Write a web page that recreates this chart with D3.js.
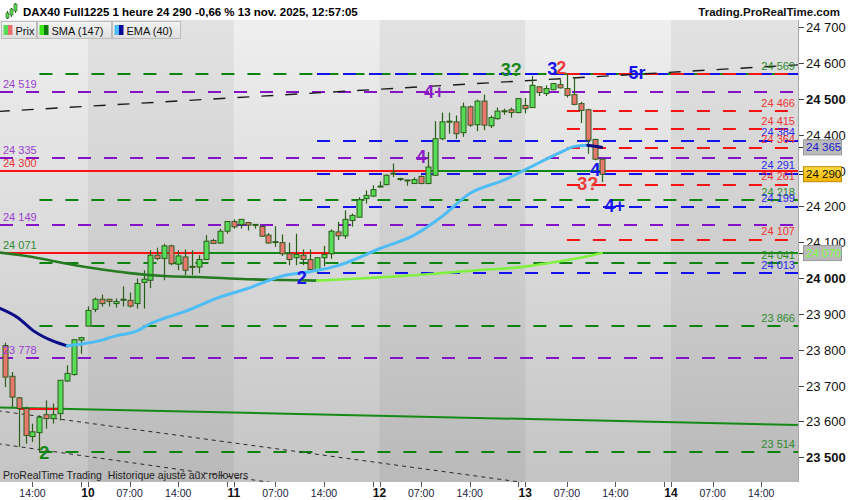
<!DOCTYPE html>
<html><head><meta charset="utf-8">
<script src="https://cdn.jsdelivr.net/npm/d3@7"></script>
<style>body{margin:0;background:#fff;} svg{display:block;font-family:"Liberation Sans",Arial,sans-serif;} .pre{white-space:pre;}</style>
</head><body><svg id="c" width="850" height="500"></svg>
<script>
// ---------- DATA ----------
const firstBar = -12; // bar index of first candle (10 nov 01:00 = 0, 21 bars per day)
const open  = [23812,23726,23666,23636,23558,23569,23619,23608,23622,23713,23731,23827,
 23866,23913,23941,23941,23929,23939,23938,23929,23988,23994,24064,24055,24090,24039,24059,24033,24031,24052,24105,24098,24131,
 24158,24149,24155,24150,24144,24120,24102,24099,24068,24057,24064,24052,24024,24057,24068,24129,24118,24161,24170,24222,24229,
 24257,24261,24292,24276,24274,24264,24284,24264,24287,24389,24436,24436,24406,24478,24428,24494,24425,24445,24465,24470,24462,
 24482,24476,24534,24515,24526,24540,24529,24512,24487,24470,24387,24332];
const high  = [23820,23738,23668,23641,23594,23617,23659,23650,23715,23757,23830,23836,
 23921,23946,23954,23941,23943,23977,23960,23999,24022,24078,24085,24096,24093,24078,24080,24078,24064,24120,24110,24138,24159,
 24164,24164,24157,24150,24147,24126,24145,24122,24099,24124,24080,24080,24057,24090,24136,24157,24189,24180,24226,24245,24259,
 24270,24290,24320,24280,24274,24281,24286,24352,24438,24462,24462,24454,24490,24482,24498,24512,24454,24476,24473,24476,24501,
 24503,24564,24535,24538,24545,24554,24569,24560,24492,24473,24389,24332];
const low   = [23696,23640,23529,23538,23543,23514,23580,23594,23603,23710,23728,23789,
 23866,23905,23921,23921,23918,23921,23918,23915,23915,23972,24050,23994,24036,24022,24008,24008,24014,24050,24096,24096,24124,
 24138,24138,24133,24138,24115,24096,24087,24062,24036,24036,24036,24022,24013,24033,24054,24106,24110,24144,24170,24208,24226,
 24253,24259,24282,24271,24258,24264,24262,24262,24285,24385,24403,24389,24394,24422,24410,24413,24419,24442,24456,24448,24460,
 24460,24476,24508,24508,24524,24529,24504,24482,24433,24347,24329,24268];
const close = [23724,23668,23636,23561,23571,23612,23608,23619,23715,23734,23828,23834,
 23910,23941,23929,23935,23935,23941,23922,23985,23997,24064,24055,24090,24040,24062,24022,24030,24052,24103,24097,24131,24158,
 24143,24164,24148,24148,24117,24098,24100,24068,24052,24066,24052,24024,24057,24066,24131,24118,24164,24175,24219,24231,24247,
 24255,24287,24293,24278,24272,24275,24264,24310,24389,24436,24438,24403,24478,24427,24494,24427,24448,24466,24467,24462,24501,
 24473,24538,24518,24529,24543,24531,24510,24485,24468,24385,24332,24290];

// SMA(147) and EMA(40): [bar index, value]
const smaPts = [[-13,24072],[-8,24059],[-3,24040],[2,24024],[6,24014],[11,24006],[16,24003],[23,23997],[28,23995],[33,23993],
 [37,23997],[42,24002],[47,24008],[51,24014],[56,24022],[62,24030],[68,24047],[72,24061],[74,24070]];
const emaPts = [[-13,23918],[-10,23888],[-8,23855],[-5,23824],[-3,23811],[-1,23816],[2,23827],[4,23839],[7,23852],[9,23873],
 [11,23888],[14,23907],[16,23923],[18,23940],[23,23971],[28,24006],[32,24018],[36,24035],[42,24082],[47,24120],[51,24172],
 [55,24236],[60,24274],[65,24322],[68,24350],[70,24367],[72,24371],[74,24365]];

// horizontal dashed levels and the bar where each family starts
const purpleLevels = [24519, 24335, 24149, 23778];
const greenLevels  = [24569, 24218, 24041, 23866, 23514];
const blueLevels   = [24569, 24384, 24291, 24199, 24013];
const redLevels    = [24569, 24466, 24415, 24364, 24261, 24107];
const purpleStart = -13, greenStart = -7, blueStart = 33, redStart = 69;

// solid horizontal levels, with coloured stretches [fromBar, toBar, colourKey]
const solidLevels = [24300, 24071, 23634];
const solidStretches = [
  [[-13,49,'red'],[49,74,'green'],[74,103,'red']],
  [[-13,17,'red'],[17,29,'green'],[29,35,'red'],[35,103,'green']],
  [[-10,-4,'red']]
];

// trend lines [bar, value]
const greenTrend = [[-13,23639],[103,23590]];
const blackTrendHigh = [[-13,24465],[103,24596]];
const blackTrendLow1 = [[-13,23630],[63,23429]];
const blackTrendLow2 = [[-13,23538],[27,23428]];

// wave labels
const waveText  = ["2","2","4","4+","3?","3","2","5r","4","3?","4+"];
const waveBar   = [-6.3, 30.8, 48, 49.9, 61, 66.9, 68.2, 79.1, 73.1, 72, 75.9];
const waveValue = [23512, 24003, 24338, 24522, 24583, 24586, 24589, 24575, 24302, 24263, 24204];
const waveKind  = ["green","blue","purple","purple","green","blue","red","blue","blue","red","blue"];

// level labels
const leftLabelValues = [24519, 24335, 24300, 24149, 24071, 23778];
const leftLabelKind   = ["purple","purple","red","purple","green","purple"];
const rightLabelValues = [24569, 24466, 24415, 24384, 24364, 24291, 24261, 24218, 24199, 24107, 24041, 24013, 23866, 23514];
const rightLabelKind   = ["green","red","red","blue","red","blue","red","green","blue","red","green","blue","green","green"];

// axes
const yTickValues = [23500,23600,23700,23800,23900,24000,24100,24200,24300,24400,24500,24600,24700];
const yBoldTicks = [23500,24000,24500];
const xTickBars   = [-8,0,6,13,21,27,34,42,48,55,63,69,76,84,90,97];
const xTickLabels = ["14:00","10","07:00","14:00","11","07:00","14:00","12","07:00","14:00","13","07:00","14:00","14","07:00","14:00"];
const dayStarts = [0,21,42,63,84];
const lastPrice = 24290, lastEma = 24365, lastSma = 24070;

// ---------- STYLE ----------
const W = 850, H = 500;
const P = {l:0, r:798, t:20, b:482};
const C = {
  purple:'#8412c8', green:'#0e830e', blue:'#1212ee', red:'#f41414',
  tpurple:'#9840d0', tgreen:'#2f8a2f', tblue:'#2a2ae6', tred:'#f03434',
  wgreen:'#17861a', wblue:'#1515ea', wpurple:'#8a1cc6', wred:'#ec3c3c'
};
const fmt = d3.formatLocale({thousands:" ", grouping:[3], decimal:",", currency:["",""]}).format(",d");

const x = d3.scaleLinear().domain([0, 84]).range([88, 671]);
const y = d3.scaleLinear().domain([23500, 24700]).range([457.3, 27.3]);

const svg = d3.select('#c');
const defs = svg.append('defs');
const bg = defs.append('linearGradient').attr('id','bg').attr('x1',0).attr('y1',0).attr('x2',0).attr('y2',1);
bg.append('stop').attr('offset','0%').attr('stop-color','#efefef');
bg.append('stop').attr('offset','100%').attr('stop-color','#c4c4c4');
const yb = defs.append('linearGradient').attr('id','yb').attr('x1',0).attr('y1',0).attr('x2',0).attr('y2',1);
yb.append('stop').attr('offset','0%').attr('stop-color','#ffdc40');
yb.append('stop').attr('offset','100%').attr('stop-color','#f0b400');
const lg = defs.append('linearGradient').attr('id','lg').attr('x1',0).attr('y1',0).attr('x2',0).attr('y2',1);
lg.append('stop').attr('offset','0%').attr('stop-color','#f4f4f4');
lg.append('stop').attr('offset','100%').attr('stop-color','#dedede');
defs.append('clipPath').attr('id','clip').append('rect')
  .attr('x',P.l).attr('y',P.t).attr('width',P.r-P.l).attr('height',P.b-P.t);

svg.append('rect').attr('width',W).attr('height',H).attr('fill','#fff');
svg.append('rect').attr('x',P.l).attr('y',P.t).attr('width',P.r-P.l).attr('height',P.b-P.t).attr('fill','url(#bg)');

const plot = svg.append('g').attr('clip-path','url(#clip)');
// day bands
const edges = [-13, ...dayStarts, 103];
for (let i = 0; i < edges.length-1; i++) {
  if (i % 2 === 1) {
    plot.append('rect').attr('x', x(edges[i])).attr('y', P.t)
      .attr('width', x(edges[i+1]) - x(edges[i])).attr('height', P.b-P.t)
      .attr('fill','#000').attr('opacity',0.05);
  }
}

// dashed levels
function dashLevels(values, start, color) {
  values.forEach(v => {
    const yy = Math.round(y(v));
    plot.append('line').attr('x1', Math.max(P.l, x(start))).attr('x2', P.r)
      .attr('y1', yy).attr('y2', yy).attr('stroke', color).attr('stroke-width', 2)
      .attr('stroke-dasharray','13,13');
  });
}
dashLevels(purpleLevels, purpleStart, C.purple);
dashLevels(greenLevels, greenStart, C.green);
dashLevels(blueLevels, blueStart, C.blue);
dashLevels(redLevels, redStart, C.red);

// trend lines
const tl = d3.line().x(d => x(d[0])).y(d => y(d[1]));
plot.append('path').attr('d', tl(blackTrendHigh)).attr('fill','none').attr('stroke','#1c1c1c')
  .attr('stroke-width',1.4).attr('stroke-dasharray','12,12');
plot.append('path').attr('d', tl(blackTrendLow1)).attr('fill','none').attr('stroke','#2a2a2a')
  .attr('stroke-width',1).attr('stroke-dasharray','4,4');
plot.append('path').attr('d', tl(blackTrendLow2)).attr('fill','none').attr('stroke','#2a2a2a')
  .attr('stroke-width',1).attr('stroke-dasharray','4,4');
plot.append('path').attr('d', tl(greenTrend)).attr('fill','none').attr('stroke','#168a16')
  .attr('stroke-width',2);

// solid levels
solidLevels.forEach((v, i) => {
  const yy = Math.round(y(v));
  solidStretches[i].forEach(s => {
    plot.append('line').attr('x1', Math.max(P.l, x(s[0]))).attr('x2', Math.min(P.r, x(s[1])))
      .attr('y1', yy).attr('y2', yy).attr('stroke', s[2]==='red' ? '#ff1010' : '#138a13').attr('stroke-width', 2);
  });
});

// candles
const wickC = '#2b5e1a';
const cg = plot.append('g');
open.forEach((o, i) => {
  const b = firstBar + i, cx = Math.round(x(b)) + 0.5;
  const c = close[i], h = high[i], l = low[i];
  cg.append('line').attr('x1',cx).attr('x2',cx).attr('y1',y(h)).attr('y2',y(l))
    .attr('stroke',wickC).attr('stroke-width',1.2);
  const top = y(Math.max(o,c)), bot = y(Math.min(o,c));
  cg.append('rect').attr('x', cx-2.5).attr('y', top).attr('width',5).attr('height', Math.max(1, bot-top))
    .attr('fill', c >= o ? '#58dc58' : '#ea7670').attr('stroke', wickC).attr('stroke-width',1);
});

// moving averages, coloured by direction
function maLine(pts, upC, downC, w) {
  const line = d3.line().x(d => x(d[0])).y(d => y(d[1])).curve(d3.curveMonotoneX);
  let run = [pts[0]], dir = null;
  for (let i = 1; i < pts.length; i++) {
    const d = pts[i][1] >= pts[i-1][1];
    if (dir === null || d === dir) { run.push(pts[i]); dir = d; }
    else {
      plot.append('path').attr('d', line(run)).attr('fill','none').attr('stroke', dir ? upC : downC)
        .attr('stroke-width', w).attr('stroke-linecap','round');
      run = [pts[i-1], pts[i]]; dir = d;
    }
  }
  plot.append('path').attr('d', line(run)).attr('fill','none').attr('stroke', dir ? upC : downC)
    .attr('stroke-width', w).attr('stroke-linecap','round');
}
maLine(smaPts, '#82f040', '#267a22', 2.6);
maLine(emaPts, '#4fbdf5', '#0c0c86', 3);

// wave labels
const wc = {green:C.wgreen, blue:C.wblue, purple:C.wpurple, red:C.wred};
waveText.forEach((t, i) => {
  plot.append('text').attr('x', x(waveBar[i])).attr('y', y(waveValue[i])).attr('dy','0.36em')
    .attr('text-anchor','middle').attr('font-size',18).attr('font-weight','bold')
    .attr('fill', wc[waveKind[i]]).text(t);
});

// level labels
const tc = {green:C.tgreen, blue:C.tblue, purple:C.tpurple, red:C.tred};
leftLabelValues.forEach((v, i) => {
  plot.append('text').attr('x', 3).attr('y', y(v) - 4).attr('font-size', 11)
    .attr('fill', tc[leftLabelKind[i]]).text(fmt(v));
});
rightLabelValues.forEach((v, i) => {
  plot.append('text').attr('x', 795).attr('y', y(v) - 4.5).attr('font-size', 11).attr('text-anchor','end')
    .attr('fill', tc[rightLabelKind[i]]).text(fmt(v));
});

// bottom-left note
svg.append('text').attr('class','pre').attr('x',3).attr('y',479).attr('font-size',10.5).attr('fill','#222')
  .text('ProRealTime Trading  Historique ajusté aux rollovers');

// frame
svg.append('line').attr('x1',P.r+0.5).attr('x2',P.r+0.5).attr('y1',P.t).attr('y2',P.b).attr('stroke','#a8a8a8');

// right axis
yTickValues.forEach(v => {
  const yy = Math.round(y(v)) + 0.5;
  svg.append('line').attr('x1',799).attr('x2',804).attr('y1',yy).attr('y2',yy).attr('stroke','#444');
  svg.append('text').attr('x',806).attr('y',yy).attr('dy','0.35em').attr('font-size',13)
    .attr('font-weight', yBoldTicks.includes(v) ? 'bold' : 'normal').attr('fill','#111').text(fmt(v));
});
function priceBox(v, fill, stroke, tcol) {
  const yy = y(v);
  svg.append('line').attr('x1',799).attr('x2',803).attr('y1',Math.round(yy)+0.5).attr('y2',Math.round(yy)+0.5).attr('stroke','#333');
  svg.append('rect').attr('x',803.5).attr('y',yy-7.5).attr('width',38).attr('height',15)
    .attr('fill',fill).attr('stroke',stroke);
  svg.append('text').attr('x',806).attr('y',yy).attr('dy','0.36em').attr('font-size',11.5)
    .attr('fill',tcol).text(fmt(v));
}
priceBox(lastEma, '#bababa', '#9a9a9a', '#1a1acc');
priceBox(lastPrice, 'url(#yb)', '#b88a00', '#111');
priceBox(lastSma, '#bababa', '#9a9a9a', '#7cff3c');

// bottom axis
xTickBars.forEach((b, i) => {
  const xx = Math.round(x(b)) + 0.5;
  const isDay = dayStarts.includes(b);
  svg.append('line').attr('x1',xx).attr('x2',xx).attr('y1',P.b).attr('y2',P.b+5).attr('stroke','#555');
  if (isDay) {
    const xp = Math.round(x(b-1)) + 0.5;
    svg.append('line').attr('x1',xp).attr('x2',xp).attr('y1',P.b).attr('y2',P.b+5).attr('stroke','#555');
  }
  svg.append('text').attr('x', x(b)).attr('y', 497).attr('text-anchor','middle')
    .attr('font-size', isDay ? 12 : 10.5).attr('font-weight', isDay ? 'bold' : 'normal')
    .attr('fill', isDay ? '#111' : '#1c1c3c').text(xTickLabels[i]);
});

// title
const ic = svg.append('g');
[[7,13,17,11,16],[11,9,15,8,13],[15,4,11,3,9]].forEach(d => {
  ic.append('line').attr('x1',d[0]+0.5).attr('x2',d[0]+0.5).attr('y1',d[3]).attr('y2',d[2]+2).attr('stroke','#2b5e1a');
  ic.append('rect').attr('x',d[0]-1).attr('y',d[1]).attr('width',3).attr('height',d[4]-d[1]+2).attr('fill','#58dc58').attr('stroke','#2b5e1a').attr('stroke-width',0.6);
});
svg.append('text').attr('x',23).attr('y',16).attr('font-size',11.5).attr('font-weight','bold').attr('fill','#000')
  .text('DAX40 Full1225 1 heure 24 290 -0,66 % 13 nov. 2025, 12:57:05');
svg.append('text').attr('x',840).attr('y',16).attr('font-size',11.5).attr('font-weight','bold').attr('fill','#111')
  .attr('text-anchor','end').text('Trading.ProRealTime.com');

// legend
const leg = [
  {x:1.5, w:35, label:'Prix', c1:'#58dc58', c2:'#ea7070'},
  {x:37.5, w:74, label:'SMA (147)', c1:'#3ee81a', c2:'#0e7a0e'},
  {x:112.5, w:68, label:'EMA (40)', c1:'#4fbdf5', c2:'#0a0a9a'}
];
leg.forEach(d => {
  svg.append('rect').attr('x',d.x).attr('y',21.5).attr('width',d.w).attr('height',17)
    .attr('fill','url(#lg)').attr('stroke','#bdbdbd');
  svg.append('rect').attr('x',d.x+2).attr('y',25).attr('width',4.5).attr('height',10).attr('fill',d.c1);
  svg.append('rect').attr('x',d.x+6.5).attr('y',25).attr('width',4.5).attr('height',10).attr('fill',d.c2);
  svg.append('text').attr('x',d.x+14).attr('y',34.5).attr('font-size',11).attr('fill','#111').text(d.label);
});
</script></body></html>
